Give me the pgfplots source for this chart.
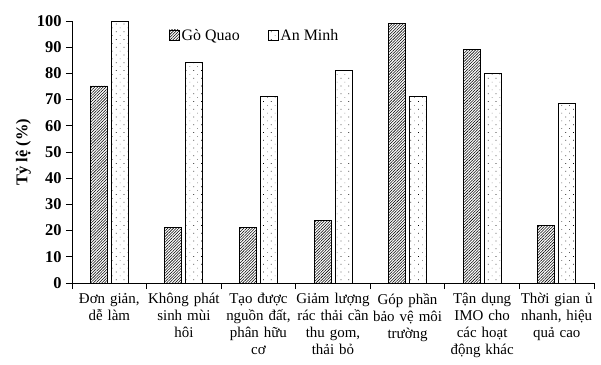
\documentclass[border=0pt]{standalone}
\usepackage{fontspec}
\setmainfont{Liberation Serif}
\usepackage{pgfplots}
\pgfplotsset{compat=1.18}
\usetikzlibrary{patterns,patterns.meta,calc}
\begin{document}
\begin{tikzpicture}[x=1bp,y=1bp]
\begin{axis}[
  scale only axis, width=522bp, height=262bp,
  ybar=4bp, bar width=17bp,
  xmin=-0.5, xmax=6.5, ymin=0, ymax=100,
  axis x line*=bottom, axis y line*=left,
  axis line style={-, line width=0.8pt},
  ytick={0,10,...,100},
  yticklabel style={font=\fontsize{16.5}{18}\selectfont\bfseries, xshift=-1bp},
  /pgf/number format/assume math mode=true,
  tick align=outside, major tick length=6bp,
  tick style={line width=0.8pt, black},
  xtick={-0.5,0.5,...,6.5}, xticklabels={},
  extra x ticks={0,1,2,3,4,5,6},
  extra x tick style={major tick length=0pt},
  extra x tick labels={{Đơn giản,\\dễ làm},{Không phát\\sinh mùi\\hôi},{Tạo được\\nguồn đất,\\phân hữu\\cơ},{Giảm lượng\\rác thải cần\\thu gom,\\thải bỏ},{Góp phần\\bảo vệ môi\\trường},{Tận dụng\\IMO cho\\các hoạt\\động khác},{Thời gian ủ\\nhanh, hiệu\\quả cao}},
  xticklabel style={font=\fontsize{15}{17}\selectfont, align=center, text width=80bp, yshift=-7bp},
  ylabel={\textbf{Tỷ lệ (\%)}},
  ylabel style={font=\fontsize{16.5}{18}\selectfont, yshift=-1bp},
  legend style={draw=none, fill=none, at={(0.18,0.985)}, anchor=north west,
    font=\fontsize{16}{18}\selectfont, legend columns=2,
    /tikz/every even column/.append style={column sep=26bp}},
  legend image code/.code={\draw[#1, line width=0.6pt] (0bp,-4.5bp) rectangle (10bp,5.5bp);},
]
\addplot[draw=black, line width=0.8pt, pattern={Lines[angle=45,distance=2pt,line width=0.55pt]}]
  coordinates {(0,75.2) (1,21.1) (2,21.1) (3,23.8) (4,99.1) (5,89.2) (6,22.0)};
\addplot[draw=black, line width=0.8pt, pattern={Dots[distance=5.5pt,radius=0.45pt,angle=45]}]
  coordinates {(0,100) (1,84.2) (2,71.4) (3,81.3) (4,71.4) (5,80.0) (6,68.4)};
\legend{Gò Quao, An Minh}
\end{axis}
\pgfresetboundingbox
\path[use as bounding box] ($(current axis.south west)+(-72bp,-82bp)$) rectangle ($(current axis.north east)+(7bp,21bp)$);
\end{tikzpicture}
\end{document}
